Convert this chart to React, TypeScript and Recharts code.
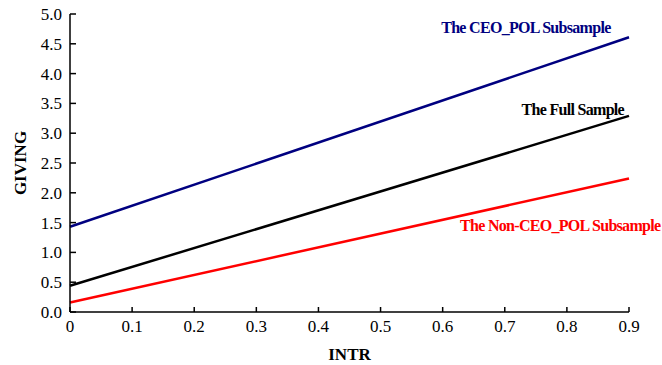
import React from 'react';
import { LineChart, Line, XAxis, YAxis, ReferenceDot } from 'recharts';

const intr = [0, 0.9];
const ceoPol = [1.43, 4.61];
const fullSample = [0.44, 3.29];
const nonCeoPol = [0.16, 2.24];

const xTicks = [0, 0.1, 0.2, 0.3, 0.4, 0.5, 0.6, 0.7, 0.8, 0.9];
const yTicks = [0, 0.5, 1, 1.5, 2, 2.5, 3, 3.5, 4, 4.5, 5];

const data = intr.map((x, i) => ({
  intr: x,
  ceo: ceoPol[i],
  full: fullSample[i],
  non: nonCeoPol[i],
}));

const serif = '"Liberation Serif", "Times New Roman", serif';

const seriesLabels = [
  { x: 0.734, y: 4.68, text: 'The CEO_POL Subsample', color: '#000080', anchor: 'middle' },
  { x: 0.892, y: 3.305, text: 'The Full Sample', color: '#000000', anchor: 'end' },
  { x: 0.628, y: 1.36, text: 'The Non-CEO_POL Subsample', color: '#ff0000', anchor: 'start' },
];

export default function App() {
  return (
    <div style={{ position: 'absolute', left: 0, top: 0, background: '#fff' }}>
      <LineChart
        width={662}
        height={365}
        data={data}
        margin={{ top: 14, right: 33, bottom: 0, left: 0 }}
      >
        <XAxis
          dataKey="intr"
          type="number"
          domain={[0, 0.9]}
          ticks={xTicks}
          tickFormatter={(v: number) => (v === 0 ? '0' : v.toFixed(1))}
          height={53}
          tickSize={-5}
          tickMargin={13}
          stroke="#000"
          strokeWidth={1.5}
          tick={{ fill: '#000', fontSize: 17, fontFamily: serif }}
          label={{
            content: (props: any) => {
              const vb = props.viewBox;
              return (
                <text
                  x={vb.x + vb.width / 2}
                  y={vb.y + 48}
                  textAnchor="middle"
                  fontFamily={serif}
                  fontWeight="bold"
                  fontSize={17}
                  fill="#000"
                >
                  INTR
                </text>
              );
            },
          }}
        />
        <YAxis
          type="number"
          domain={[0, 5]}
          ticks={yTicks}
          tickFormatter={(v: number) => v.toFixed(1)}
          width={70}
          tickSize={-6}
          tickMargin={14}
          stroke="#000"
          strokeWidth={1.5}
          tick={{ fill: '#000', fontSize: 17, fontFamily: serif }}
          label={{
            content: (props: any) => {
              const vb = props.viewBox;
              const cx = vb.x + 26;
              const cy = vb.y + vb.height / 2;
              return (
                <text
                  x={cx}
                  y={cy}
                  transform={`rotate(-90 ${cx} ${cy})`}
                  textAnchor="middle"
                  fontFamily={serif}
                  fontWeight="bold"
                  fontSize={17}
                  fill="#000"
                >
                  GIVING
                </text>
              );
            },
          }}
        />
        <Line dataKey="ceo" stroke="#000080" strokeWidth={2.5} dot={false} isAnimationActive={false} />
        <Line dataKey="full" stroke="#000000" strokeWidth={2.5} dot={false} isAnimationActive={false} />
        <Line dataKey="non" stroke="#ff0000" strokeWidth={2.5} dot={false} isAnimationActive={false} />
        {seriesLabels.map((l) => (
          <ReferenceDot
            key={l.text}
            x={l.x}
            y={l.y}
            r={0}
            fill="none"
            stroke="none"
            ifOverflow="visible"
            label={{
              content: (props: any) => {
                const vb = props.viewBox;
                return (
                  <text
                    x={vb.x}
                    y={vb.y}
                    textAnchor={l.anchor as any}
                    fontFamily={serif}
                    fontWeight="bold"
                    fontSize={16}
                    letterSpacing={-0.7}
                    fill={l.color}
                  >
                    {l.text}
                  </text>
                );
              },
            }}
          />
        ))}
      </LineChart>
    </div>
  );
}
